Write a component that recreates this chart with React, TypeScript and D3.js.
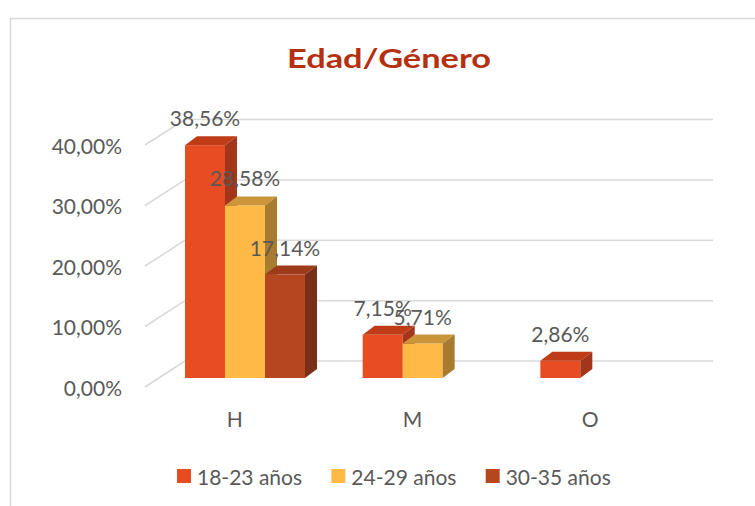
import React from "react";
import * as d3 from "d3";

// values (share of respondents)
const categories = ["H", "M", "O"];
const series = ["18-23 años", "24-29 años", "30-35 años"];
const age1823 = [0.3856, 0.0715, 0.0286];
const age2429 = [0.2858, 0.0571, null];
const age3035 = [0.1714, null, null];
const yTicks = [0, 0.1, 0.2, 0.3, 0.4];

const values = [age1823, age2429, age3035];

// front / top / side colours per series
const fronts = ["#E84C22", "#FFB946", "#B6461F"];
const tops = ["#BF3C17", "#CB9639", "#9C3A1A"];
const sides = ["#A3351A", "#A87C2E", "#7A2E17"];

const W = 755;
const H = 506;
const textColor = "#595959";
const gridColor = "#D9D9D9";
const font = "Lato, 'Open Sans', sans-serif";
const fs = 21;

const locale = d3.formatLocale({ decimal: ",", thousands: ".", grouping: [3], currency: ["", "€"] });
const pct = locale.format(".2%");

// depth of the bars (perspective offset of top/side faces)
const DX = 12;
const DY = -9;
// side wall: front edge x and back edge x
const sideFront = 145;
const wallLeft = 185;
const wallRight = 713;

export default function App() {
  const x = d3.scaleBand().domain(categories).range([146, 679]);
  const xs = d3.scaleBand().domain(series).range([39, 159]);
  const yBar = d3.scaleLinear().domain([0, 0.4]).range([378, 136.5]);
  const yWall = d3.scaleLinear().domain([0, 0.4]).range([361, 119.5]);
  const ySide = d3.scaleLinear().domain([0, 0.4]).range([387, 145]);
  const legendX = d3.scaleBand().domain(series).range([177, 640]);

  const bars: { cat: string; s: number; v: number }[] = [];
  categories.forEach((c, i) => {
    values.forEach((arr, s) => {
      const v = arr[i];
      if (v != null) bars.push({ cat: c, s, v });
    });
  });

  return (
    <svg width={W} height={H} style={{ position: "absolute", left: 0, top: 0, background: "#fff" }}>
      {/* chart frame */}
      <rect x={10.5} y={18.5} width={900} height={700} fill="#fff" stroke={gridColor} strokeWidth={1.5} />

      <text
        x={389}
        y={68}
        textAnchor="middle"
        fontFamily={font}
        fontWeight="bold"
        fontSize={27}
        fill="#B5300E"
        textLength={204}
        lengthAdjust="spacingAndGlyphs"
      >
        Edad/Género
      </text>

      {/* gridlines: side wall diagonals + back wall */}
      {yTicks.map((t) => (
        <g key={t} stroke={gridColor} strokeWidth={1.5} fill="none">
          <line x1={sideFront} y1={ySide(t)} x2={wallLeft} y2={yWall(t)} />
          <line x1={wallLeft} y1={yWall(t)} x2={wallRight} y2={yWall(t)} />
        </g>
      ))}

      {/* y tick labels */}
      {yTicks.map((t) => (
        <text
          key={"l" + t}
          x={122}
          y={ySide(t)}
          textAnchor="end"
          dominantBaseline="central"
          fontFamily={font}
          fontSize={fs}
          fill={textColor}
        >
          {pct(t)}
        </text>
      ))}

      {/* 3d bars */}
      {bars.map((b) => {
        const x0 = x(b.cat)! + xs(series[b.s])!;
        const x1 = x0 + xs.bandwidth();
        const yt = yBar(b.v);
        const yb = yBar(0);
        return (
          <g key={b.cat + b.s}>
            <rect x={x0} y={yt} width={x1 - x0} height={yb - yt} fill={fronts[b.s]} />
            <polygon
              points={`${x0},${yt} ${x1},${yt} ${x1 + DX},${yt + DY} ${x0 + DX},${yt + DY}`}
              fill={tops[b.s]}
            />
            <polygon
              points={`${x1},${yt} ${x1 + DX},${yt + DY} ${x1 + DX},${yb + DY} ${x1},${yb}`}
              fill={sides[b.s]}
            />
          </g>
        );
      })}

      {/* data labels */}
      {bars.map((b) => (
        <text
          key={"d" + b.cat + b.s}
          x={x(b.cat)! + xs(series[b.s])! + xs.bandwidth() / 2}
          y={yBar(b.v) - 19}
          textAnchor="middle"
          fontFamily={font}
          fontSize={fs}
          fill={textColor}
        >
          {pct(b.v)}
        </text>
      ))}

      {/* category labels */}
      {categories.map((c) => (
        <text
          key={c}
          x={x(c)! + x.bandwidth() / 2}
          y={418}
          textAnchor="middle"
          dominantBaseline="central"
          fontFamily={font}
          fontSize={fs}
          fill={textColor}
        >
          {c}
        </text>
      ))}

      {/* legend */}
      {series.map((s, i) => (
        <g key={s} transform={`translate(${legendX(s)},476)`}>
          <rect x={0} y={-7} width={14} height={14} fill={fronts[i]} />
          <text x={20} y={0} dominantBaseline="central" fontFamily={font} fontSize={fs} fill={textColor}>
            {s}
          </text>
        </g>
      ))}
    </svg>
  );
}
